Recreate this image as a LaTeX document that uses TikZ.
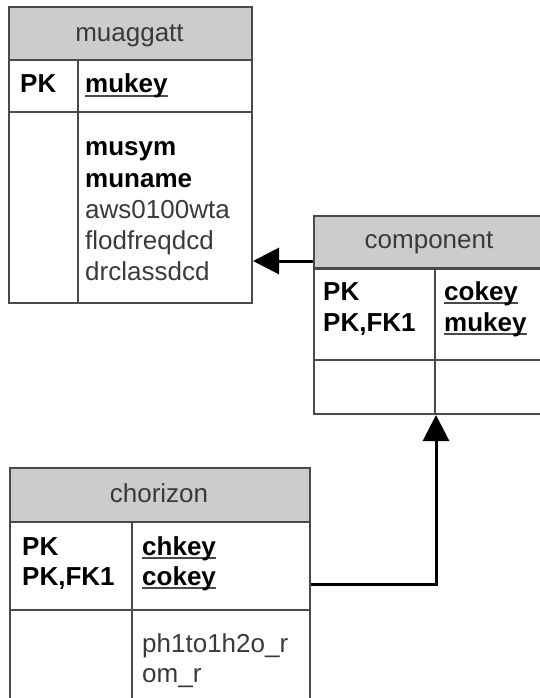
\documentclass[tikz,border=0pt]{standalone}
\usepackage{fontspec}
\setmainfont{Liberation Sans}
\usepackage{calc}
\usepackage{tikz}
\usetikzlibrary{positioning, arrows.meta}
\definecolor{headgray}{HTML}{CCCCCC}
\definecolor{linegray}{HTML}{4A4A4A}
\definecolor{txtgray}{HTML}{3A3A3A}
\newcommand{\keyline}[1]{\rlap{\textcolor{linegray}{\rule[-4pt]{\widthof{#1}}{2pt}}}#1}

\begin{document}
\begin{tikzpicture}[
        x=1pt, y=-1pt,
        every node/.style={font=\fontsize{26}{31}\selectfont, inner sep=0pt},
        head/.style={draw=linegray, line width=2pt, fill=headgray, minimum height=53pt, anchor=north west},
        cell/.style={draw=linegray, line width=2pt, anchor=north west},
        title/.style={text=txtgray, anchor=base},
        key/.style={font=\fontsize{26}{31}\selectfont\bfseries, text=black, anchor=base west},
        attr/.style={text=txtgray, anchor=base west},
        link/.style={-{Triangle[length=26pt, width=26pt]}, line width=3pt}
    ]

    \useasboundingbox (0,0) rectangle (540,698);
    \clip (0,0) rectangle (540,698);

    % Tabella muaggatt
    \node[head, minimum width=243pt] (mu-head) at (8,6) {};
    \node[cell, minimum width=69pt, minimum height=52pt] (mu-keyl) at (8,59) {};
    \node[cell, minimum width=174pt, minimum height=52pt] (mu-keyr) at (77,59) {};
    \node[cell, minimum width=69pt, minimum height=191pt] (mu-attl) at (8,111) {};
    \node[cell, minimum width=174pt, minimum height=191pt] (mu-attr) at (77,111) {};

    \node[title] (mu-name) at (129.5,42) {muaggatt};
    \node[key] (mu-pk) at (20,93) {PK};
    \node[key] (mu-mukey) at (85,93) {\keyline{mukey}};
    \node[key] (mu-musym) at (85,155) {musym};
    \node[key] (mu-muname) at (85,187) {muname};
    \foreach \t [count=\i] in {aws0100wta, flodfreqdcd, drclassdcd}
        \node[attr] (mu-att\i) at (85,187+31*\i) {\t};

    % Tabella component
    \node[head, minimum width=232pt] (co-head) at (313,215) {};
    \node[cell, minimum width=121pt, minimum height=92pt] (co-keyl) at (313,267) {};
    \node[cell, minimum width=111pt, minimum height=92pt] (co-keyr) at (434,267) {};
    \node[cell, minimum width=121pt, minimum height=54pt] (co-attl) at (313,359) {};
    \node[cell, minimum width=111pt, minimum height=54pt] (co-attr) at (434,359) {};

    \node[title] (co-name) at (429,248) {component};
    \node[key] (co-pk) at (323,300) {PK};
    \node[key] (co-pkfk) at (323,331) {PK,FK1};
    \node[key] (co-cokey) at (444,300) {\keyline{cokey}};
    \node[key] (co-mukey) at (444,331) {\keyline{mukey}};

    % Tabella chorizon
    \node[head, minimum width=300pt, minimum height=54pt] (ch-head) at (9,467) {};
    \node[cell, minimum width=122pt, minimum height=88pt] (ch-keyl) at (9,521) {};
    \node[cell, minimum width=178pt, minimum height=88pt] (ch-keyr) at (131,521) {};
    \node[cell, minimum width=122pt, minimum height=95pt] (ch-attl) at (9,609) {};
    \node[cell, minimum width=178pt, minimum height=95pt] (ch-attr) at (131,609) {};

    \node[title] (ch-name) at (159,502) {chorizon};
    \node[key] (ch-pk) at (22,555) {PK};
    \node[key] (ch-pkfk) at (22,585) {PK,FK1};
    \node[key] (ch-chkey) at (142,555) {\keyline{chkey}};
    \node[key] (ch-cokey) at (142,585) {\keyline{cokey}};
    \node[attr] (ch-att1) at (142,652) {ph1to1h2o\_r};
    \node[attr] (ch-att2) at (142,682) {om\_r};

    % Collegamenti
    \draw[link] ([yshift=9pt]co-head.south west) -- ([yshift=9pt]co-head.south west -| mu-attr.east);
    \draw[link] ([yshift=-18pt]ch-keyr.east) -| (co-attl.south east);

\end{tikzpicture}
\end{document}
